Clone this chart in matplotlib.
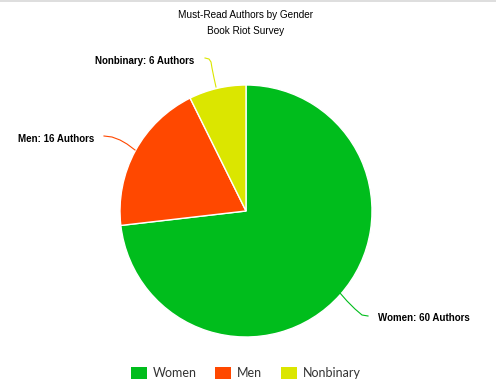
import matplotlib.pyplot as plt
from matplotlib.patches import Rectangle

genders = ["Women", "Men", "Nonbinary"]
authors = [60, 16, 6]
colors = ["#00bd1c", "#ff4800", "#dbe600"]

W, H = 496, 387
fig = plt.figure(figsize=(W / 100, H / 100), dpi=100)
ax = fig.add_axes([0, 0, 1, 1])

cx, cy, r = 246, H - 211, 126
wedges, _ = ax.pie(authors, colors=colors, startangle=90, counterclock=False,
                   center=(cx, cy), radius=r, frame=True,
                   wedgeprops=dict(edgecolor="white", linewidth=1))
ax.set_xlim(0, W)
ax.set_ylim(0, H)
ax.set_aspect("equal")
ax.axis("off")

# thin grey border on top
ax.plot([0, W], [H - 0.5, H - 0.5], color="#d8d8d8", lw=1.2, clip_on=False)

# titles
fig.text(246 / W, 1 - 15 / H, "Must-Read Authors by Gender", ha="center", va="center",
         fontsize=7.2, family="Liberation Sans")
fig.text(246 / W, 1 - 31 / H, "Book Riot Survey", ha="center", va="center",
         fontsize=7.2, family="Liberation Sans")

# labels with leader lines
lab_style = dict(fontsize=7, fontweight="bold", family="Liberation Sans", va="center")
ax.plot([340, 347, 355, 362, 368], [H - 293, H - 301, H - 309, H - 315, H - 316],
        color=colors[0], lw=0.8)
ax.text(378, H - 318, f"{genders[0]}: {authors[0]} Authors", ha="left", **lab_style)
ax.plot([104, 112, 120, 127, 135], [H - 136, H - 137, H - 140, H - 144, H - 150],
        color=colors[1], lw=0.8)
ax.text(94, H - 139, f"{genders[1]}: {authors[1]} Authors", ha="right", **lab_style)
ax.plot([205, 209, 211, 212, 214, 216], [H - 58, H - 59, H - 62, H - 68, H - 78, H - 87],
        color=colors[2], lw=0.8)
ax.text(194, H - 61, f"{genders[2]}: {authors[2]} Authors", ha="right", **lab_style)

# legend
leg_x = [131, 215, 281]
for x, c, g in zip(leg_x, colors, genders):
    ax.add_patch(Rectangle((x, H - 379), 16, 12, facecolor=c, edgecolor="none"))
    ax.text(x + 22, H - 373, g, ha="left", va="center", fontsize=9, family="Lato",
            color="#333333")

fig.savefig("out.png", dpi=100)
